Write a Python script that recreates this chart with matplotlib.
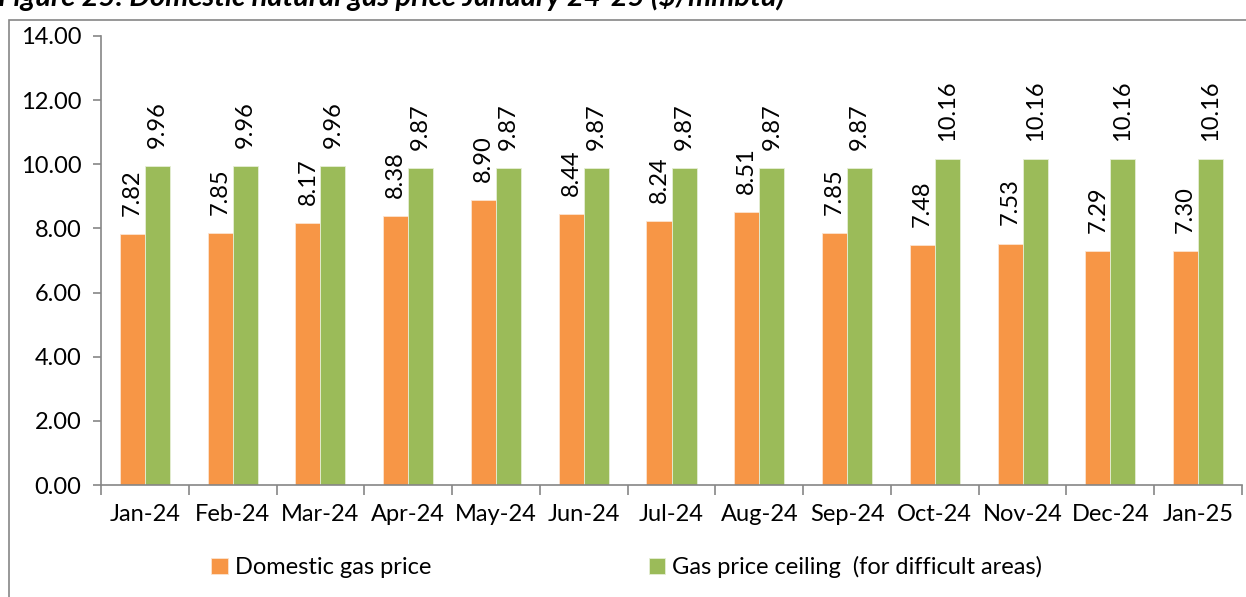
import numpy as np
import matplotlib
matplotlib.use('Agg')
import matplotlib.pyplot as plt
from matplotlib.patches import Rectangle

months = ['Jan-24', 'Feb-24', 'Mar-24', 'Apr-24', 'May-24', 'Jun-24', 'Jul-24',
          'Aug-24', 'Sep-24', 'Oct-24', 'Nov-24', 'Dec-24', 'Jan-25']
domestic = [7.82, 7.85, 8.17, 8.38, 8.90, 8.44, 8.24, 8.51, 7.85, 7.48, 7.53, 7.29, 7.30]
ceiling = [9.96, 9.96, 9.96, 9.87, 9.87, 9.87, 9.87, 9.87, 9.87, 10.16, 10.16, 10.16, 10.16]

ORANGE = '#F79646'
GREEN = '#9BBB59'
GREY = '#868686'

plt.rcParams['font.family'] = ['Lato', 'DejaVu Sans']

fig = plt.figure(figsize=(12.46, 5.97), dpi=100)
ax = fig.add_axes([101/1246, 1 - 485/597, (1242 - 101)/1246, (485 - 36)/597])

x = np.arange(len(months))
w = 0.285
b1 = ax.bar(x - w/2, domestic, w, color=ORANGE, edgecolor='#FCE4D0', linewidth=0.6,
            label='Domestic gas price')
b2 = ax.bar(x + w/2, ceiling, w, color=GREEN, edgecolor='#E6EFD6', linewidth=0.6,
            label='Gas price ceiling  (for difficult areas)')

for bars in (b1, b2):
    for r in bars:
        ax.annotate('%.2f' % r.get_height(), (r.get_x() + r.get_width()/2, r.get_height()),
                    xytext=(0, 13), textcoords='offset points', rotation=90,
                    ha='center', va='bottom', fontsize=17)

ax.set_xlim(-0.5, len(months) - 0.5)
ax.set_ylim(0, 14)
ax.set_yticks(np.arange(0, 14.01, 2))
ax.set_yticklabels(['%.2f' % v for v in np.arange(0, 14.01, 2)])
ax.set_xticks(x)
ax.set_xticklabels(months)
ax.set_xticks(np.arange(-0.5, len(months), 1), minor=True)
ax.tick_params(axis='x', which='major', length=0, pad=14, labelsize=17)
ax.tick_params(axis='x', which='minor', length=7, color=GREY, width=1.2)
ax.tick_params(axis='y', length=6, color=GREY, width=1.2, labelsize=17, pad=8)

for s in ['top', 'right']:
    ax.spines[s].set_visible(False)
for s in ['left', 'bottom']:
    ax.spines[s].set_color(GREY)
    ax.spines[s].set_linewidth(1.2)

fig.legend(loc='center', bbox_to_anchor=(0.503, 1 - 567/597), ncol=2, frameon=False,
           fontsize=17, handlelength=0.7, handleheight=0.7, handletextpad=0.3,
           columnspacing=9.2)

# outer chart border
fig.patches.append(Rectangle((9/1246, -0.1), 1.2, 1.1 - 20/597, transform=fig.transFigure,
                             fill=False, edgecolor=GREY, linewidth=1.2))

# title sits partly above the top edge, as in the source page crop
fig.text(-0.002, 1 - 6/597, 'Figure 25: Domestic natural gas price January 24-25 ($/mmbtu)',
         fontsize=21, fontweight='bold', fontstyle='italic', va='baseline', ha='left')

fig.savefig('out.png', dpi=100)
